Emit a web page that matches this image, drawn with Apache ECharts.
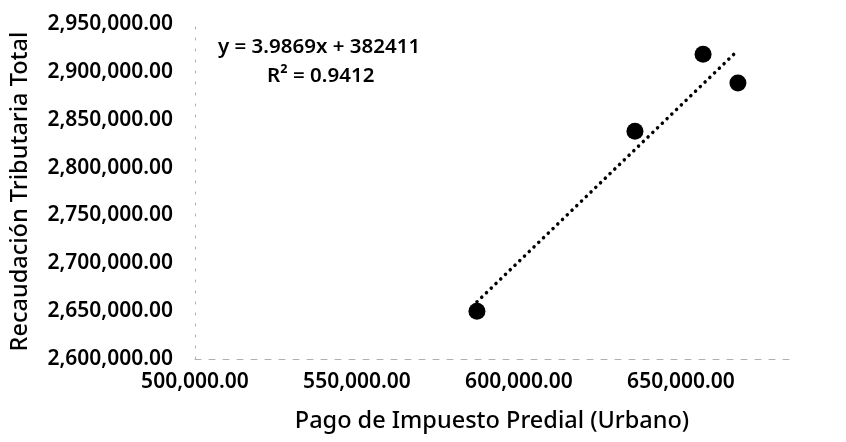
<!DOCTYPE html>
<html>
<head>
<meta charset="utf-8">
<script src="https://cdn.jsdelivr.net/npm/echarts@6/dist/echarts.min.js"></script>
<style>html,body{margin:0;padding:0;background:#fff}#c{width:846px;height:442px}</style>
</head>
<body>
<div id="c"></div>
<script>
// Data
const pagoPredial = [571200, 611100, 628300, 637100];          // x: Pago de Impuesto Predial (Urbano)
const recaudacion = [2650000, 2838000, 2918500, 2888300];      // y: Recaudación Tributaria Total
const trendX = [571200, 637100];                                // trendline extent (data range)
const trendY = [2659700, 2922500];                              // y = 3.9869x + 382411 at the ends
const xTicks = [500000, 550000, 600000, 650000];
const yTicks = [2600000, 2650000, 2700000, 2750000, 2800000, 2850000, 2900000, 2950000];
const equationText = 'y = 3.9869x + 382411';
const r2Text = 'R² = 0.9412';

const fmt = v => v.toLocaleString('en-US', {minimumFractionDigits: 2, maximumFractionDigits: 2});
const FONT = 'Noto Sans';
const points = pagoPredial.map((x, i) => [x, recaudacion[i]]);
const trend = trendX.map((x, i) => [x, trendY[i]]);

const chart = echarts.init(document.getElementById('c'), null, {renderer: 'canvas'});
chart.setOption({
  animation: false,
  backgroundColor: '#ffffff',
  grid: [
    {left: 195, right: 57, top: 24, bottom: 83},
    {left: 195, right: 165, top: 24, bottom: 83}
  ],
  xAxis: [
    {
      gridIndex: 0, type: 'value', min: xTicks[0], max: xTicks[xTicks.length - 1], interval: 50000,
      name: 'Pago de Impuesto Predial (Urbano)', nameLocation: 'middle', nameGap: 50,
      nameTextStyle: {fontFamily: FONT, fontSize: 23.5, fontWeight: 500, color: '#000'},
      axisLine: {show: true, lineStyle: {color: '#b0b0b0', type: [6, 8], width: 1}},
      axisTick: {show: false}, axisLabel: {show: false}, splitLine: {show: false}
    },
    {
      gridIndex: 1, type: 'value', min: xTicks[0], max: xTicks[xTicks.length - 1], interval: 50000,
      axisLine: {show: false}, axisTick: {show: false}, splitLine: {show: false},
      axisLabel: {show: true, margin: 13, formatter: fmt, fontFamily: FONT, fontSize: 21, fontWeight: 600, color: '#000'}
    }
  ],
  yAxis: [
    {
      gridIndex: 0, type: 'value', min: yTicks[0], max: yTicks[yTicks.length - 1], interval: 50000,
      name: 'Recaudación Tributaria Total', nameLocation: 'middle', nameGap: 163, nameRotate: 90,
      nameTextStyle: {fontFamily: FONT, fontSize: 23.5, fontWeight: 500, color: '#000'},
      axisLine: {show: true, lineStyle: {color: '#b0b0b0', type: [2, 9], width: 1}},
      axisTick: {show: false}, splitLine: {show: false},
      axisLabel: {show: true, margin: 22, formatter: fmt, fontFamily: FONT, fontSize: 21, fontWeight: 600, color: '#000'}
    },
    {
      gridIndex: 1, type: 'value', min: yTicks[0], max: yTicks[yTicks.length - 1], show: false
    }
  ],
  graphic: [
    {type: 'text', left: 218, top: 37, style: {text: equationText, font: '600 20.5px "Noto Sans"', fill: '#000'}},
    {type: 'text', left: 267, top: 66, style: {text: r2Text, font: '600 20.5px "Noto Sans"', fill: '#000'}}
  ],
  series: [
    {
      type: 'line', xAxisIndex: 0, yAxisIndex: 0, data: trend, symbol: 'none', silent: true,
      lineStyle: {color: '#000', width: 3.5, type: [0.1, 6.5], cap: 'round', opacity: 1}, z: 1
    },
    {
      type: 'scatter', xAxisIndex: 0, yAxisIndex: 0, data: points, symbol: 'circle', symbolSize: 17,
      itemStyle: {color: '#000', opacity: 1}, z: 2
    }
  ]
});
</script>
</body>
</html>
